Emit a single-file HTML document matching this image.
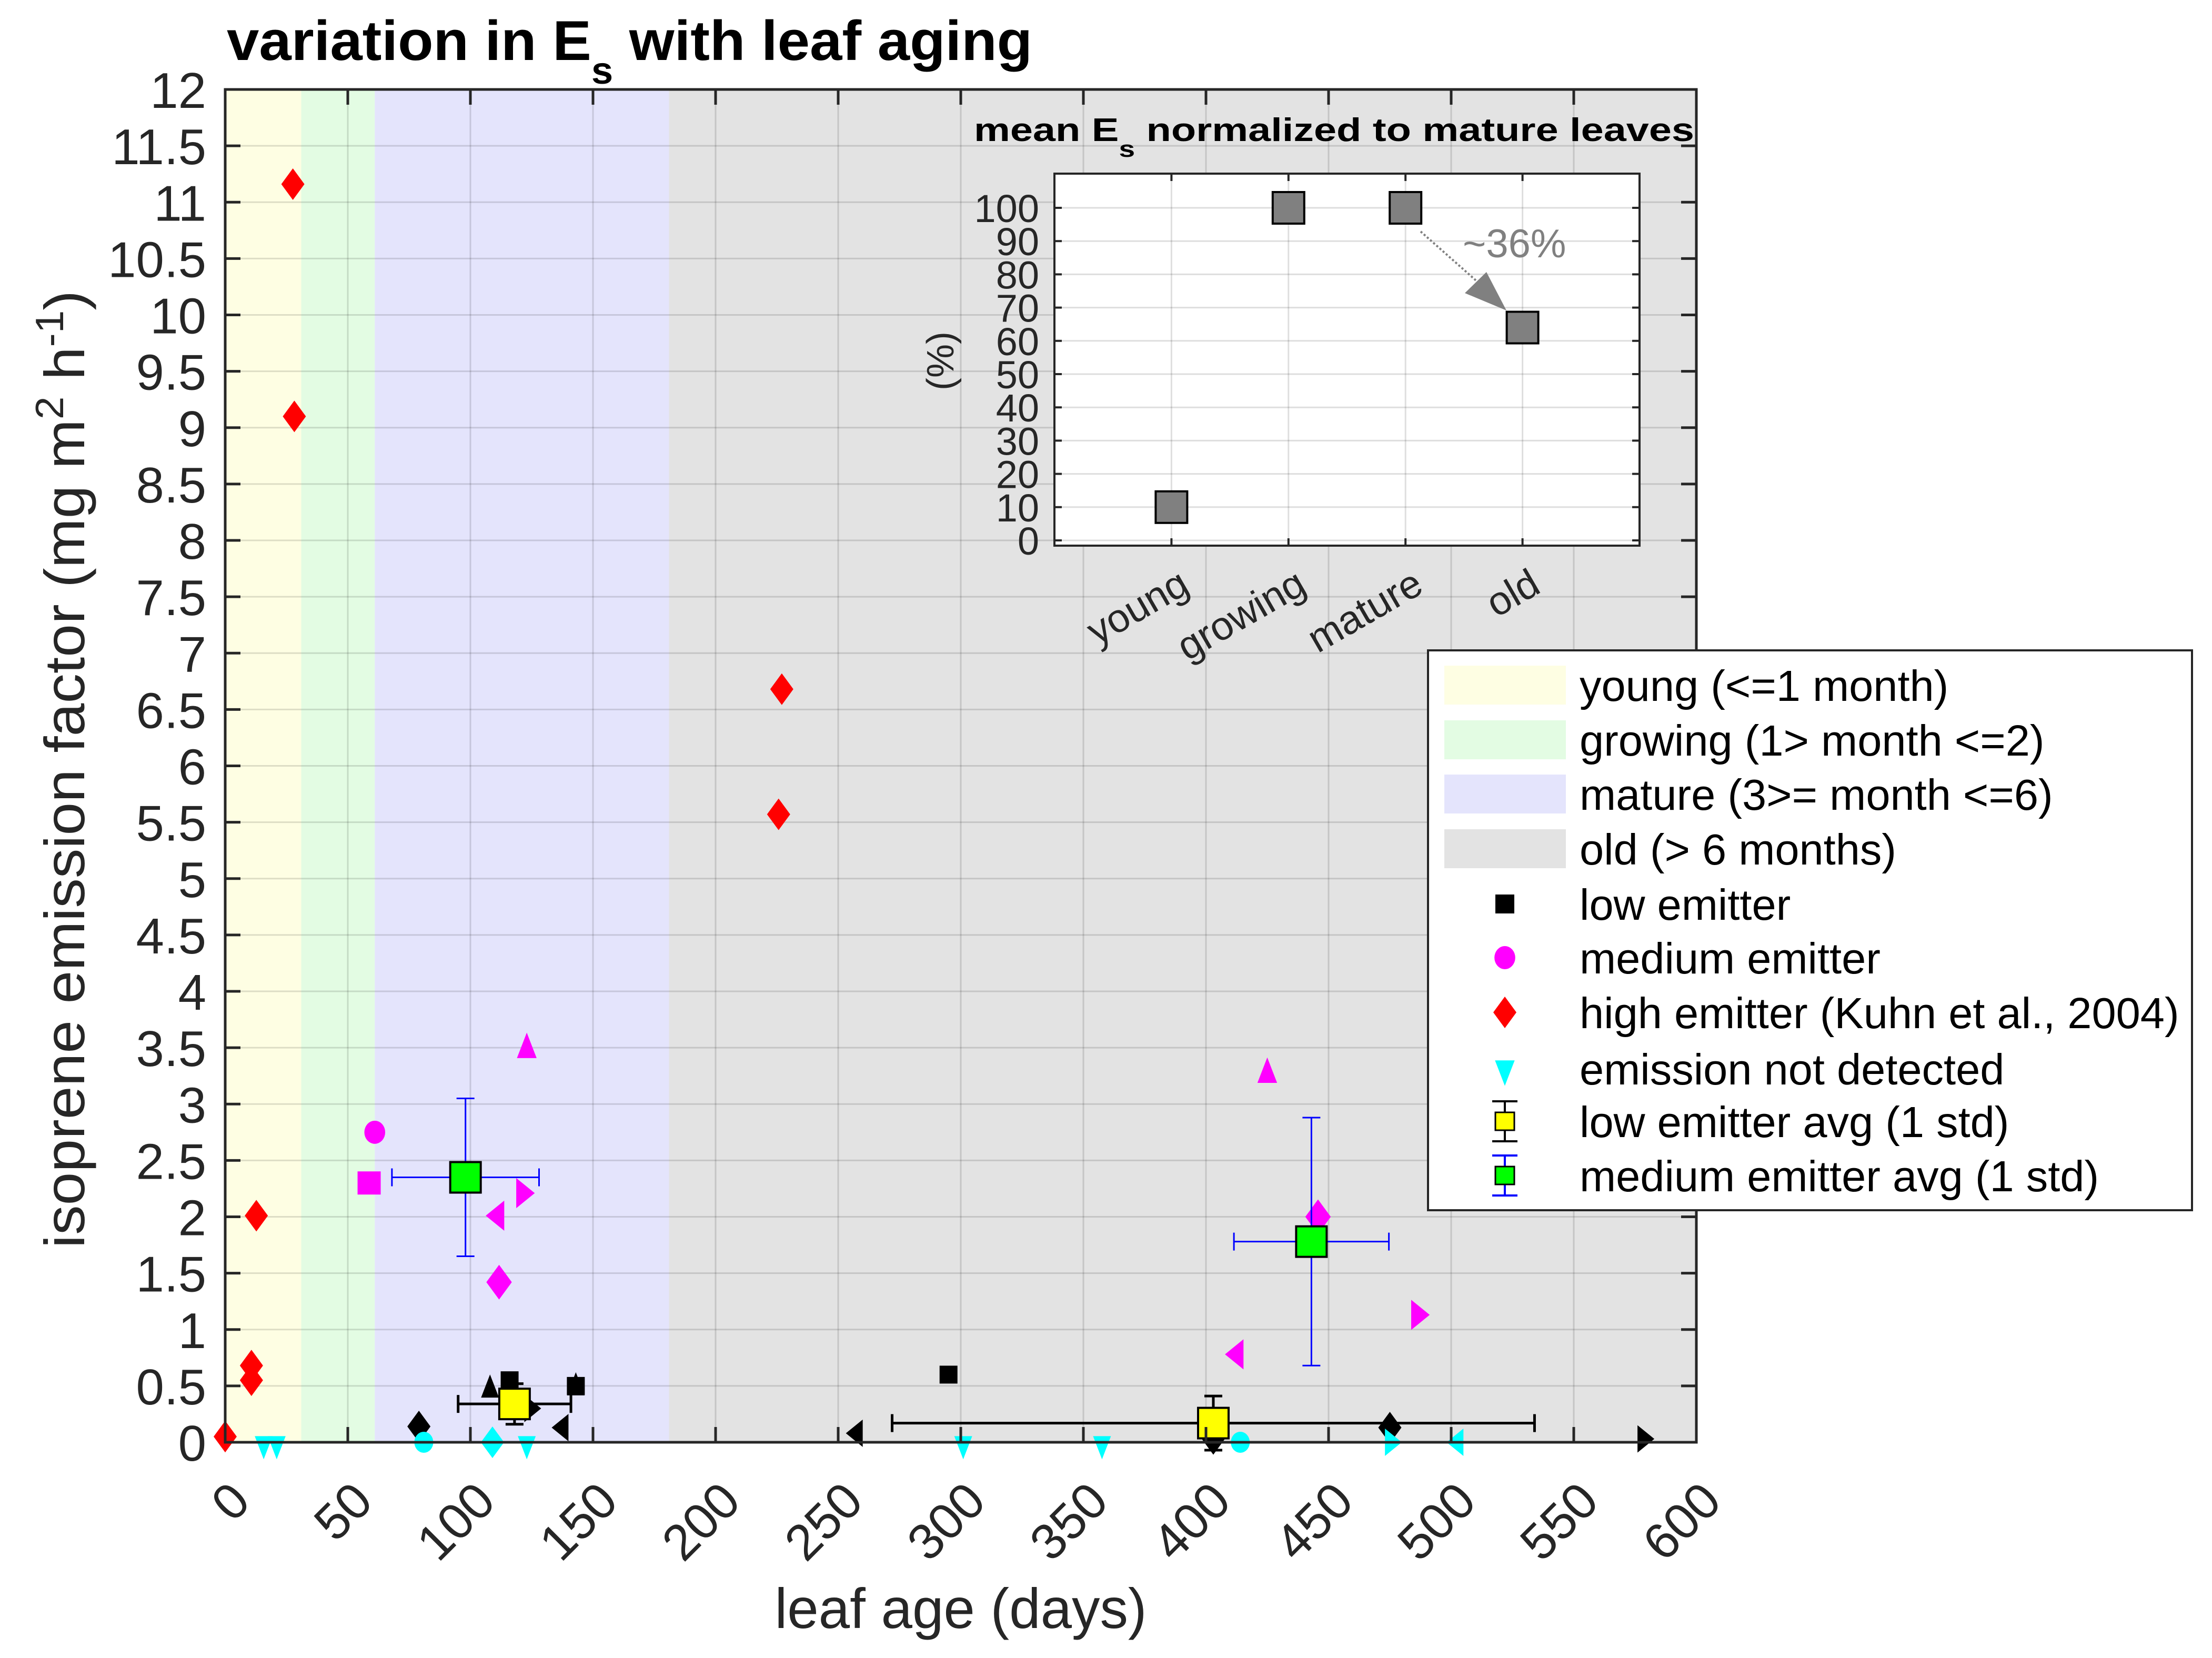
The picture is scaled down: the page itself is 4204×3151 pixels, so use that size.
<!DOCTYPE html>
<html><head><meta charset="utf-8"><style>
html,body{margin:0;padding:0;background:#fff}
svg{display:block;font-family:"Liberation Sans",Arial,sans-serif}
</style></head><body>
<svg id="chart" width="4204" height="3151" viewBox="0 0 4204 3151" xmlns="http://www.w3.org/2000/svg">
<rect x="0" y="0" width="4204" height="3151" fill="#fff"/>
<g id="main"></g>
<g id="inset"></g>
<g id="legend"></g>
</svg>
<script>
// ---- main chart data ----
const xTicks = [0,50,100,150,200,250,300,350,400,450,500,550,600];
const yTicks = [0,0.5,1,1.5,2,2.5,3,3.5,4,4.5,5,5.5,6,6.5,7,7.5,8,8.5,9,9.5,10,10.5,11,11.5,12];
const yTickLabels = ["0","0.5","1","1.5","2","2.5","3","3.5","4","4.5","5","5.5","6","6.5","7","7.5","8","8.5","9","9.5","10","10.5","11","11.5","12"];
const phaseStart = [0,31,61,181];
const phaseEnd = [31,61,181,600];
const phaseNames = ["young","growing","mature","old"];
// high emitters (diamonds)
const highX = [27.6,28.2,12.7,10.7,10.7,0,227,225.7];
const highY = [11.16,9.1,2.01,0.68,0.55,0.05,6.68,5.57];
// medium emitters (magenta, various shapes)
const medX = [61,58.7,123,110.5,122,111.7,425,445.7,412,487];
const medY = [2.75,2.3,3.5,2.01,2.21,1.42,3.28,2.0,0.78,1.13];
const medShape = ["circle","square","up","left","right","diamond","up","diamond","left","right"];
// low emitters (black)
const lowX = [116,108,143,143,125,137,79,295,257,475,579,403];
const lowY = [0.55,0.48,0.5,0.5,0.3,0.13,0.14,0.6,0.08,0.13,0.03,0.03];
const lowShape = ["square","up","square","up","right","left","diamond","square","left","diamond","right","diamond"];
// not detected (cyan)
const ndX = [21,15.7,81,109,123,301,357.6,414,476,502];
const ndY = [-0.03,-0.03,0,0,-0.03,-0.03,-0.03,0,0,0];
const ndShape = ["down","down","circle","diamond","down","down","down","circle","right","left"];
// averages with 1 std
const lowAvgX = [118,403];
const lowAvgY = [0.34,0.17];
const lowAvgXStd = [23,131];
const lowAvgYStd = [0.18,0.24];
const medAvgX = [98,443];
const medAvgY = [2.35,1.78];
const medAvgXStd = [30,31.6];
const medAvgYStd = [0.7,1.1];
// ---- inset data ----
const insetCats = ["young","growing","mature","old"];
const insetPct = [10,100,100,64];
const insetTicks = [0,10,20,30,40,50,60,70,80,90,100];

const NS = "http://www.w3.org/2000/svg";
function mk(tag, attrs, parent){const e=document.createElementNS(NS,tag);for(const k in attrs)e.setAttribute(k,attrs[k]);parent.appendChild(e);return e;}

const L=428,R=3224,T=170,B=2741;
const xS = d => L + (d-0)*(R-L)/600;
const yS = v => B - v*(B-T)/12;
const main = document.getElementById('main');

phaseNames.forEach((n,i)=>{
  const cols=["#fefee3","#e3fce3","#e4e4fc","#e3e3e3"];
  const r=mk('rect',{x:xS(phaseStart[i]),y:T,width:xS(phaseEnd[i])-xS(phaseStart[i]),height:B-T,fill:cols[i]},main);
  
  
});
xTicks.forEach(t=>{
  const g=mk('line',{x1:xS(t),x2:xS(t),y1:T,y2:B,stroke:"#000","stroke-opacity":0.13,"stroke-width":3},main);
  
  
});
yTicks.forEach(t=>{
  const g=mk('line',{x1:L,x2:R,y1:yS(t),y2:yS(t),stroke:"#000","stroke-opacity":0.13,"stroke-width":3},main);
  
  
});

function marker(parent,shape,cx,cy,s,fill,stroke,sw){
  let e;const h=s/2;
  if(shape==="square") e=mk('rect',{x:cx-h,y:cy-h,width:s,height:s},parent);
  else if(shape==="circle") e=mk('ellipse',{cx:cx,cy:cy,rx:h*0.9,ry:h},parent);
  else if(shape==="diamond") e=mk('polygon',{points:`${cx},${cy-h*1.5} ${cx+h*1.1},${cy} ${cx},${cy+h*1.5} ${cx-h*1.1},${cy}`},parent);
  else if(shape==="up") e=mk('polygon',{points:`${cx},${cy-h*1.3} ${cx+h*0.85},${cy+h*0.9} ${cx-h*0.85},${cy+h*0.9}`},parent);
  else if(shape==="down") e=mk('polygon',{points:`${cx},${cy+h*1.3} ${cx+h*0.85},${cy-h*0.9} ${cx-h*0.85},${cy-h*0.9}`},parent);
  else if(shape==="left") e=mk('polygon',{points:`${cx-h*0.9},${cy} ${cx+h*0.7},${cy-h*1.3} ${cx+h*0.7},${cy+h*1.3}`},parent);
  else e=mk('polygon',{points:`${cx+h*0.9},${cy} ${cx-h*0.7},${cy-h*1.3} ${cx-h*0.7},${cy+h*1.3}`},parent);
  e.setAttribute('fill',fill);
  if(stroke){e.setAttribute('stroke',stroke);e.setAttribute('stroke-width',sw||3);}
  return e;
}

const pts = mk('g',{},main);


highX.forEach((x,i)=>{
  const m=marker(pts,"diamond",xS(x),yS(highY[i]),40,"#ff0000");
  
  
});
medX.forEach((x,i)=>{
  const m=marker(pts,medShape[i],xS(x),yS(medY[i]),44,"#ff00ff");
  
  
});
lowX.forEach((x,i)=>{
  const m=marker(pts,lowShape[i],xS(x),yS(lowY[i]),lowShape[i]==="square"?34:40,"#000");
  
  
});
ndX.forEach((x,i)=>{
  const m=marker(pts,ndShape[i],xS(x),yS(ndY[i]),40,"#00ffff");
  
  
});

function errbar(parent,x,y,xs,ys,col,fill,sw,cap){
  const g=mk('g',{stroke:col,"stroke-width":sw,fill:"none"},parent);
  const cx=xS(x),cy=yS(y);
  mk('line',{x1:xS(x-xs),x2:xS(x+xs),y1:cy,y2:cy},g);
  mk('line',{x1:xS(x-xs),x2:xS(x-xs),y1:cy-cap,y2:cy+cap},g);
  mk('line',{x1:xS(x+xs),x2:xS(x+xs),y1:cy-cap,y2:cy+cap},g);
  mk('line',{x1:cx,x2:cx,y1:yS(y-ys),y2:yS(y+ys)},g);
  mk('line',{x1:cx-cap,x2:cx+cap,y1:yS(y-ys),y2:yS(y-ys)},g);
  mk('line',{x1:cx-cap,x2:cx+cap,y1:yS(y+ys),y2:yS(y+ys)},g);
  mk('rect',{x:cx-29,y:cy-29,width:58,height:58,fill:fill,stroke:"#000","stroke-width":4},g);
  return g;
}
lowAvgX.forEach((x,i)=>{
  const g=errbar(pts,x,lowAvgY[i],lowAvgXStd[i],lowAvgYStd[i],"#000","#ffff00",5,17);
  
  
});
medAvgX.forEach((x,i)=>{
  const g=errbar(pts,x,medAvgY[i],medAvgXStd[i],medAvgYStd[i],"#0000ff","#00ff00",3,17);
  
  
});

const ax=mk('g',{stroke:"#262626","stroke-width":5},main);


mk('rect',{x:L,y:T,width:R-L,height:B-T,fill:"none"},ax);
xTicks.forEach(t=>{mk('line',{x1:xS(t),x2:xS(t),y1:B,y2:B-29},ax);mk('line',{x1:xS(t),x2:xS(t),y1:T,y2:T+29},ax);});
yTicks.forEach(t=>{mk('line',{x1:L,x2:L+29,y1:yS(t),y2:yS(t)},ax);mk('line',{x1:R,x2:R-29,y1:yS(t),y2:yS(t)},ax);});
xTicks.forEach(t=>{
  const px=xS(t)+52,py=2858;
  const tx=mk('text',{x:px,y:py,"text-anchor":"end","font-size":96,fill:"#262626",transform:`rotate(-45 ${px} ${py})`},main);
  tx.textContent=String(t);
  
  
});
yTicks.forEach((t,i)=>{
  const tx=mk('text',{x:392,y:yS(t)+35,"text-anchor":"end","font-size":96,fill:"#262626"},main);
  tx.textContent=yTickLabels[i];
  
  
});
const title=mk('text',{x:431,y:114,"font-size":107,"font-weight":"bold",fill:"#000",textLength:1531,lengthAdjust:"spacingAndGlyphs"},main);
title.innerHTML='variation in E<tspan font-size="72" dy="45">s</tspan><tspan dy="-45"> with leaf aging</tspan>';


const xl=mk('text',{x:1826,y:3094,"text-anchor":"middle","font-size":108,fill:"#262626",textLength:707,lengthAdjust:"spacingAndGlyphs"},main);
xl.textContent="leaf age (days)";


const yl=mk('text',{x:0,y:0,"text-anchor":"middle","font-size":108,fill:"#262626",transform:"translate(160 1462) rotate(-90)",textLength:1820,lengthAdjust:"spacingAndGlyphs"},main);
yl.innerHTML='isoprene emission factor (mg m<tspan font-size="75" dy="-40">2</tspan><tspan dy="40"> h</tspan><tspan font-size="75" dy="-40">-1</tspan><tspan dy="40">)</tspan>';



// ---- inset ----
const ins=document.getElementById('inset');
const IL=2004,IR=3116,IT=330,IB=1037;
const ixS = i => IL + (i+1)*(IR-IL)/5;
const iyS = v => 1027 - v*6.32;
const ibg=mk('rect',{x:IL,y:IT,width:IR-IL,height:IB-IT,fill:"#fff"},ins);


insetCats.forEach((c,i)=>{
  const g=mk('line',{x1:ixS(i),x2:ixS(i),y1:IT,y2:IB,stroke:"#000","stroke-opacity":0.13,"stroke-width":3},ins);
  
  
});
insetTicks.forEach(t=>{
  const g=mk('line',{x1:IL,x2:IR,y1:iyS(t),y2:iyS(t),stroke:"#000","stroke-opacity":0.13,"stroke-width":3},ins);
  
  
});
const iax=mk('g',{stroke:"#262626","stroke-width":4},ins);


mk('rect',{x:IL,y:IT,width:IR-IL,height:IB-IT,fill:"none"},iax);
insetCats.forEach((c,i)=>{mk('line',{x1:ixS(i),x2:ixS(i),y1:IB,y2:IB-14},iax);mk('line',{x1:ixS(i),x2:ixS(i),y1:IT,y2:IT+14},iax);});
insetTicks.forEach(t=>{mk('line',{x1:IL,x2:IL+14,y1:iyS(t),y2:iyS(t)},iax);mk('line',{x1:IR,x2:IR-14,y1:iyS(t),y2:iyS(t)},iax);});
insetTicks.forEach(t=>{
  const tx=mk('text',{x:1975,y:iyS(t)+27,"text-anchor":"end","font-size":74,fill:"#262626"},ins);
  tx.textContent=String(t);
  
  
});
insetCats.forEach((c,i)=>{
  const px=ixS(i)+38,py=1124;
  const tx=mk('text',{x:px,y:py,"text-anchor":"end","font-size":76,fill:"#262626",transform:`rotate(-30 ${px} ${py})`},ins);
  tx.textContent=c;
  
  
});
insetPct.forEach((v,i)=>{
  const r=mk('rect',{x:ixS(i)-30,y:iyS(v)-30,width:60,height:60,fill:"#808080",stroke:"#000","stroke-width":4},ins);
  
  
});
const arr=mk('g',{},ins);


mk('line',{x1:2700,y1:440,x2:2830,y2:555,stroke:"#808080","stroke-width":4,"stroke-dasharray":"4 4"},arr);
mk('polygon',{points:"2863,590 2784,557 2825,517",fill:"#808080"},arr);
const pc=mk('text',{x:2780,y:489,"font-size":76,fill:"#808080"},ins);
pc.textContent="~36%";


const it=mk('text',{x:1851,y:268,"font-size":62,"font-weight":"bold",fill:"#000",textLength:1369,lengthAdjust:"spacingAndGlyphs"},ins);
it.innerHTML='mean E<tspan font-size="44" dy="30">s</tspan><tspan dy="-30"> normalized to mature leaves</tspan>';


const iyl=mk('text',{x:0,y:0,"text-anchor":"middle","font-size":72,fill:"#262626",transform:"translate(1812 686) rotate(-90)"},ins);
iyl.textContent="(%)";



// ---- legend ----
const lg=document.getElementById('legend');
const lbox=mk('rect',{x:2714,y:1236,width:1452,height:1064,fill:"#fff",stroke:"#262626","stroke-width":4},lg);


const legLabels=["young (<=1 month)","growing (1> month <=2)","mature (3>= month <=6)","old (> 6 months)","low emitter","medium emitter","high emitter (Kuhn et al., 2004)","emission not detected","low emitter avg (1 std)","medium emitter avg (1 std)"];
const rowY=[1302,1406,1509,1613,1718,1820,1924,2031,2131,2234];
const patchCols=["#fefee3","#e3fce3","#e4e4fc","#e3e3e3"];
legLabels.forEach((lab,i)=>{
  const g=mk('g',{},lg);
  
  
  const cy=rowY[i], cx=2860;
  if(i<4) mk('rect',{x:2745,y:cy-37,width:231,height:74,fill:patchCols[i]},g);
  else if(i===4) marker(g,"square",cx,cy,36,"#000");
  else if(i===5) marker(g,"circle",cx,cy,44,"#ff00ff");
  else if(i===6) marker(g,"diamond",cx,cy,40,"#ff0000");
  else if(i===7) marker(g,"down",cx,cy+4,44,"#00ffff");
  else {
    const col=i===8?"#000":"#0000ff", fill=i===8?"#ffff00":"#00ff00";
    mk('line',{x1:cx,x2:cx,y1:cy-38,y2:cy+38,stroke:col,"stroke-width":4},g);
    mk('line',{x1:cx-24,x2:cx+24,y1:cy-38,y2:cy-38,stroke:col,"stroke-width":4},g);
    mk('line',{x1:cx-24,x2:cx+24,y1:cy+38,y2:cy+38,stroke:col,"stroke-width":4},g);
    mk('rect',{x:cx-18,y:cy-17,width:36,height:34,fill:fill,stroke:"#000","stroke-width":3},g);
  }
  const tx=mk('text',{x:3002,y:cy+30,"font-size":83,fill:"#000"},g);
  tx.textContent=lab;
});
</script>
</body></html>
